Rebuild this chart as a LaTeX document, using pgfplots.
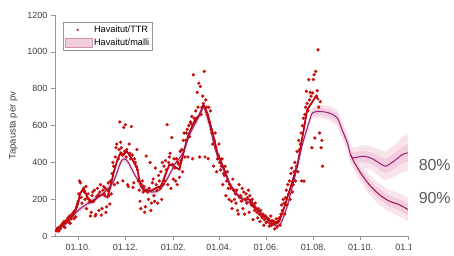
\documentclass[border=0pt]{standalone}
\usepackage{pgfplots}
\pgfplotsset{compat=1.18}
\usepackage{pgfplotstable}
\usepgfplotslibrary{fillbetween}
\usepackage{fontspec}
\setmainfont{Liberation Sans}
\definecolor{dotred}{RGB}{200,12,12}
\definecolor{avgred}{RGB}{190,0,20}
\definecolor{modelc}{RGB}{145,35,120}
\definecolor{fcline}{RGB}{158,18,80}
\definecolor{bandout}{RGB}{249,228,238}
\definecolor{bandin}{RGB}{242,205,222}
\definecolor{axgray}{RGB}{150,150,150}
\definecolor{txtgray}{RGB}{60,60,60}

\pgfplotstableread{
v
30
38
45
28
50
40
55
62
70
55
80
48
75
85
90
100
78
110
70
95
120
115
130
95
140
105
160
175
190
230
300
290
210
180
250
260
240
200
270
150
210
230
200
185
110
130
220
240
190
250
110
120
215
260
225
140
240
280
115
150
250
270
230
260
130
160
250
290
220
175
300
230
340
400
380
280
430
480
500
290
420
470
620
510
480
440
300
590
460
605
430
470
280
270
500
450
420
595
440
265
290
420
400
380
470
360
300
250
190
150
280
300
240
270
130
160
435
250
240
200
260
400
140
180
290
310
220
190
370
280
250
180
330
300
260
350
200
400
280
380
300
410
360
605
280
400
430
450
260
535
390
310
420
370
300
420
280
400
390
320
460
410
470
350
520
560
430
520
560
580
430
600
540
620
610
650
420
876
640
620
680
640
780
700
830
430
812
660
700
760
720
894
430
740
700
660
420
700
620
680
580
560
500
380
520
560
480
350
420
440
500
400
360
380
420
280
340
330
380
220
300
350
260
200
280
260
190
150
310
250
200
230
180
250
140
120
280
210
220
190
260
150
240
120
200
230
180
210
250
130
220
190
170
200
90
160
140
180
150
130
100
150
120
80
140
110
100
120
60
90
110
75
100
80
95
55
70
110
60
85
65
80
40
70
95
50
75
85
100
60
120
170
140
200
180
120
210
250
170
280
230
300
200
340
370
240
280
350
400
300
380
460
350
520
470
500
560
300
600
640
299
660
700
786
720
680
849
740
780
760
480
777
850
876
533
894
760
790
1011
700
560
730
480
520
380
}\obsdata

\pgfplotstableread{
d v
-29 35
-22 56
-14 83
-7 110
-1 164
3 237
8 254
12 211
18 184
25 211
31 227
38 211
42 272
46 346
51 416
55 454
59 443
63 461
70 416
76 373
81 272
86 245
94 245
101 263
107 272
114 346
118 389
124 380
131 362
135 434
142 542
150 623
157 659
162 713
167 668
174 560
180 452
188 371
196 281
205 227
213 200
222 200
228 164
237 119
245 92
254 74
260 83
267 164
275 272
284 398
290 542
296 686
303 731
307 758
311 740
}\avgdata

\pgfplotstableread{
d v wi wo
-30 27 10 16
-15 70 10 16
0 140 11 18
15 185 11 18
30 225 11 18
45 290 12 20
55 400 12 20
60 420 12 20
65 400 12 20
75 320 12 20
85 260 12 20
95 240 12 20
105 250 12 20
115 310 12 20
125 390 12 20
135 450 13 22
145 560 13 22
155 640 13 22
162 700 13 22
170 600 13 22
178 460 13 22
188 360 13 22
198 270 12 20
210 210 12 20
222 180 12 20
232 140 12 20
245 90 10 18
255 60 10 16
262 70 10 16
270 160 10 18
280 320 12 20
290 500 13 22
300 640 16 26
303 669 18 30
311 677 20 35
324 669 22 40
335 641 24 45
341 578 25 48
348 506 26 50
352 443 27 52
356 425 28 55
367 434 30 60
378 425 32 65
389 398 36 72
397 380 38 78
408 407 42 85
419 443 45 95
426 452 48 100
}\modelA

\pgfplotstableread{
d v wi wo
352 443 27 52
356 407 25 48
365 344 25 50
376 281 26 54
389 227 28 58
402 191 30 60
414 173 30 62
426 146 32 65
}\modelB

\begin{document}
\begin{tikzpicture}
\begin{axis}[
  at={(55pt,19pt)}, anchor=south west,
  scale only axis, width=354pt, height=222pt,
  xmin=-30, xmax=426, ymin=0, ymax=1200,
  axis x line*=bottom, axis y line*=left,
  axis line style={axgray, line width=0.6pt, -},
  tick style={axgray, line width=0.6pt},
  tick align=outside, major tick length=4pt,
  xtick={0,61,123,182,243,304,365,426},
  xticklabels={01.10.,01.12.,01.02.,01.04.,01.06.,01.08.,01.10.,01.12.},
  ytick={0,200,400,600,800,1000,1200},
  /pgf/number format/assume math mode=true,
  /pgf/number format/1000 sep={},
  tick label style={font=\fontsize{9}{10}\selectfont, text=txtgray},
  ylabel={Tapausta per pv},
  ylabel style={font=\fontsize{9.5}{11}\selectfont, text=txtgray, xshift=0pt, yshift=3pt},
  legend style={at={(rel axis cs:0.023,0.968)}, anchor=north west, draw=axgray, line width=0.4pt,
    font=\fontsize{9.2}{10.5}\selectfont, inner sep=1.5pt, row sep=1pt, cells={anchor=west}},
]
% bands
\addplot[draw=none, name path=Ao, forget plot] table[x=d, y expr=\thisrow{v}+\thisrow{wo}] {\modelA};
\addplot[draw=none, name path=Au, forget plot] table[x=d, y expr=\thisrow{v}-\thisrow{wo}] {\modelA};
\addplot[draw=none, name path=Ai, forget plot] table[x=d, y expr=\thisrow{v}+\thisrow{wi}] {\modelA};
\addplot[draw=none, name path=Aj, forget plot] table[x=d, y expr=\thisrow{v}-\thisrow{wi}] {\modelA};
\addplot[draw=none, name path=Bo, forget plot] table[x=d, y expr=\thisrow{v}+\thisrow{wo}] {\modelB};
\addplot[draw=none, name path=Bu, forget plot] table[x=d, y expr=\thisrow{v}-\thisrow{wo}] {\modelB};
\addplot[draw=none, name path=Bi, forget plot] table[x=d, y expr=\thisrow{v}+\thisrow{wi}] {\modelB};
\addplot[draw=none, name path=Bj, forget plot] table[x=d, y expr=\thisrow{v}-\thisrow{wi}] {\modelB};
\addplot[bandout, forget plot] fill between[of=Ao and Au];
\addplot[bandout, forget plot] fill between[of=Bo and Bu];
\addplot[bandin, forget plot] fill between[of=Ai and Aj];
\addplot[bandin, forget plot] fill between[of=Bi and Bj];
% observed dots
\addplot[only marks, mark=*, mark size=1.45pt, dotred, draw=none,
  legend image code/.code={\fill[dotred] (0.45cm,0cm) circle (1.2pt);}]
  table[x expr=\coordindex-28, y=v] {\obsdata};
\addlegendentry{Havaitut/TTR}
\addlegendimage{legend image code/.code={\draw[draw=fcline!45, fill=bandin, line width=0.5pt] (0cm,-0.15cm) rectangle (0.95cm,0.17cm);}}
\addlegendentry{Havaitut/malli}
% 7-day average
\addplot[avgred, line width=1.8pt, forget plot] table[x=d, y=v] {\avgdata};
% model lines
\addplot[modelc, line width=1.0pt, smooth, forget plot] table[x=d, y=v] {\modelA};
\addplot[fcline, line width=1.0pt, smooth, forget plot] table[x=d, y=v] {\modelB};
\end{axis}
\fill[white] (412.5pt,0pt) rectangle (454pt,13pt);
\node[font=\fontsize{16}{19}\selectfont, text=txtgray!85] at (436pt,91pt) {80\%};
\node[font=\fontsize{16}{19}\selectfont, text=txtgray!85] at (436pt,57pt) {90\%};
\path[use as bounding box] (0,0) rectangle (454pt,256pt);
\end{tikzpicture}
\end{document}
